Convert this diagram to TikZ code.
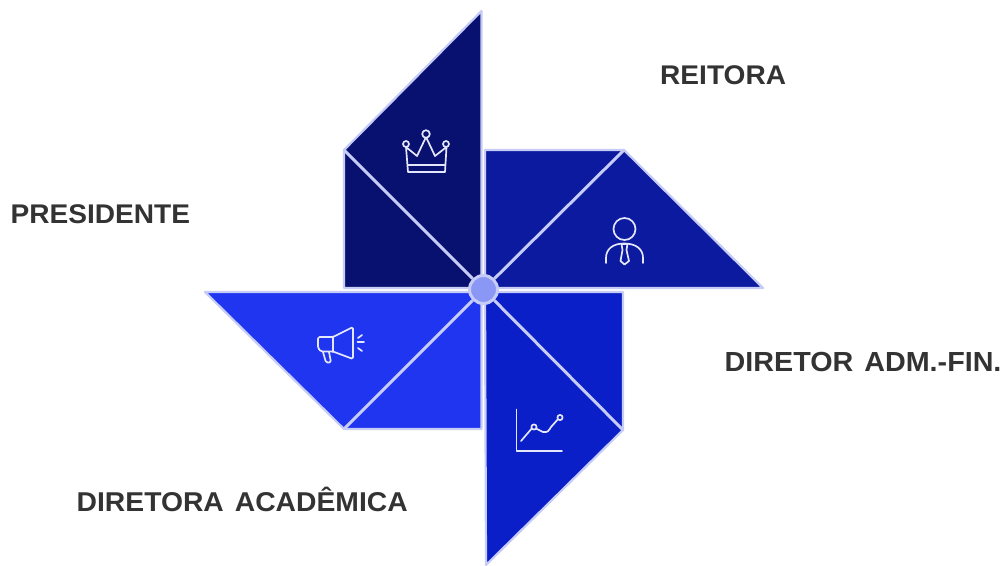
\documentclass[tikz,border=0pt]{standalone}
\usepackage{fontspec}
\setmainfont[FakeStretch=1.04]{Liberation Sans}
\definecolor{bA}{HTML}{08116F}
\definecolor{bB}{HTML}{0B1A9E}
\definecolor{bC}{HTML}{0A1FC8}
\definecolor{bD}{HTML}{1F35F0}
\definecolor{edgeC}{HTML}{C6CCF6}
\definecolor{hubC}{HTML}{8B97F5}
\definecolor{txtC}{HTML}{333333}
\definecolor{iconC}{HTML}{E4E7FB}
\tikzset{
 blade/.style={draw=edgeC,line width=2.2pt,line join=round},
 rib/.style={draw=edgeC,line width=3pt},
 icon/.style={draw=iconC,line width=1.7pt,line cap=round,line join=round},
 lbl/.style={font=\bfseries\fontsize{27pt}{32pt}\selectfont,text=txtC,inner sep=0pt,anchor=base west}
}
\begin{document}
\begin{tikzpicture}[x=1pt,y=-1pt]
\useasboundingbox (0,0) rectangle (1008,565);
% blades
\path[blade,fill=bA] (481.5,11) -- (344,150) -- (344,288) -- (481.5,288) -- cycle;
\path[blade,fill=bB] (485,150) -- (624,150) -- (763,288) -- (485,288) -- cycle;
\path[blade,fill=bC] (485,292) -- (623,292) -- (623,430) -- (486,565) -- cycle;
\path[blade,fill=bD] (205,292) -- (481.5,292) -- (481.5,429) -- (344,429) -- cycle;
\coordinate (ta) at (344,150);
\coordinate (tb) at (624,150);
\coordinate (tc) at (623,430);
\coordinate (td) at (344,429);
\node[circle,draw=edgeC,fill=hubC,line width=3pt,minimum size=28pt,inner sep=0pt] (hub) at (483.5,289.5) {};
\draw[rib] (hub) -- (ta);
\draw[rib] (hub) -- (tb);
\draw[rib] (hub) -- (tc);
\draw[rib] (hub) -- (td);
% crown
\draw[icon] (406,147) -- (408,172) -- (445,172) -- (446.5,147) -- (435,156) -- (426,137) -- (417,156) -- cycle;
\draw[icon] (408,165) -- (445,165);
\draw[icon,fill=bA] (406,144) circle (3);
\draw[icon,fill=bA] (446,144) circle (3);
\draw[icon,fill=bA] (426,134) circle (3.8);
% person
\draw[icon] (624.5,229) circle (11);
\draw[icon] (606,263) -- (606,258) .. controls (606,249) and (613,243.5) .. (624,243.5) .. controls (636,243.5) and (643,249) .. (643,258) -- (643,263);
\draw[icon] (621.5,244) -- (627.5,244) -- (626.5,250) -- (629,261) -- (624.5,264.5) -- (620.5,261) -- (622.5,250) -- cycle;
% megaphone
\draw[icon,rounded corners=1.5pt] (318,337) -- (333,337) -- (353,327) -- (353,359) -- (333,351.5) -- (321,351.5) -- (318,348) -- cycle;
\draw[icon] (333,337) -- (333,351.5);
\draw[icon,rounded corners=1.5pt] (323,352) -- (326,362.5) -- (331,362.5) -- (329,352);
\draw[icon] (358,338) -- (362,335);
\draw[icon] (357.5,342) -- (364,342);
\draw[icon] (358,348) -- (362,351);
% chart
\draw[icon] (516.5,409.5) -- (516.5,451) -- (562,451);
\draw[icon] (521,441) -- (533,427) -- (543,432) .. controls (548,433) and (549,430) .. (551,427) -- (559,418);
\draw[icon,fill=bC] (534,427) circle (2.6);
\draw[icon,fill=bC] (560,417.5) circle (2.6);
% labels
\node[lbl] (reitora) at (660,84) {REITORA};
\node[lbl] (presidente) at (10.5,223) {PRESIDENTE};
\node[lbl,font=\bfseries\fontsize{27.6pt}{32pt}\selectfont] (diretor) at (724.5,371) {\spaceskip=11pt DIRETOR ADM.-FIN.};
\node[lbl,font=\bfseries\fontsize{27.2pt}{32pt}\selectfont] (diretora) at (76.5,511) {\spaceskip=11pt DIRETORA ACADÊMICA};
\end{tikzpicture}
\end{document}
